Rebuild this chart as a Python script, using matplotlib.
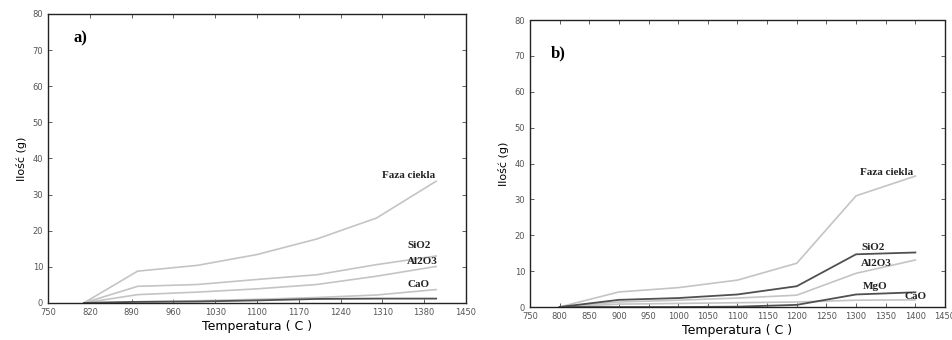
import matplotlib
matplotlib.use("Agg")
import matplotlib.pyplot as plt
import numpy as np

LIGHT, DARK = "#c4c4c4", "#505050"

# ---- panel a) ----
temp_a = [810, 900, 1000, 1100, 1200, 1300, 1400]
faza_a = [0, 8.8, 10.4, 13.4, 17.7, 23.5, 33.7]
sio2_a = [0, 4.6, 5.1, 6.5, 7.8, 10.6, 13.0]
al2o3_a = [0, 2.3, 3.0, 3.9, 5.1, 7.4, 10.1]
cao_a = [0, 0.3, 0.6, 1.0, 1.5, 2.2, 3.7]
mgo_a = [0, 0.3, 0.4, 0.7, 1.1, 1.2, 1.2]
xticks_a = np.arange(750, 1451, 70)

# ---- panel b) ----
temp_b = [800, 900, 1000, 1100, 1200, 1300, 1400]
faza_b = [0, 4.2, 5.4, 7.5, 12.2, 31.0, 36.5]
sio2_b = [0, 2.0, 2.5, 3.5, 5.8, 14.7, 15.2]
al2o3_b = [0, 1.4, 1.9, 2.5, 3.3, 9.4, 13.1]
mgo_b = [0, 0, 0, 0.1, 0.6, 3.5, 4.1]
cao_b = [0, 0.8, 1.0, 1.2, 1.4, 1.9, 2.0]
xticks_b = np.arange(750, 1451, 50)

yticks = np.arange(0, 81, 10)

plt.rcParams.update({"font.family": "DejaVu Sans"})
fig = plt.figure(figsize=(9.53, 3.40), dpi=100)
ax_a = fig.add_axes([0.0504, 0.109, 0.4386, 0.850])
ax_b = fig.add_axes([0.5561, 0.097, 0.4355, 0.844])

LBL = dict(family="Liberation Serif", fontweight="bold", fontsize=8, color="#222222")


def style(ax, xt):
    ax.set_xlim(750, 1450)
    ax.set_ylim(0, 80)
    ax.set_xticks(xt)
    ax.set_yticks(yticks)
    ax.tick_params(direction="in", length=3, labelsize=6, labelcolor="#555555",
                   top=True, right=True, color="#444444", width=0.6)
    for s in ax.spines.values():
        s.set_linestyle((0, (2, 1)))
        s.set_linewidth(1.0)
        s.set_color("#222222")
    ax.set_xlabel("Temperatura ( C )", fontsize=9, labelpad=2)
    ax.set_ylabel("Ilość (g)", fontsize=8, labelpad=4)


# panel a
ax_a.plot(temp_a, faza_a, color=LIGHT, lw=1.2)
ax_a.plot(temp_a, sio2_a, color=LIGHT, lw=1.2)
ax_a.plot(temp_a, al2o3_a, color=LIGHT, lw=1.2)
ax_a.plot(temp_a, cao_a, color=LIGHT, lw=1.2)
ax_a.plot(temp_a, mgo_a, color=DARK, lw=1.3)
style(ax_a, xticks_a)
ax_a.text(1398, 35.3, "Faza ciekla", ha="right", va="center", **LBL)
ax_a.text(1371, 16.0, "SiO2", ha="center", va="center", **LBL)
ax_a.text(1376, 11.4, "Al2O3", ha="center", va="center", **LBL)
ax_a.text(1371, 5.0, "CaO", ha="center", va="center", **LBL)
ax_a.text(0.077, 0.915, "a)", transform=ax_a.transAxes, ha="center", va="center",
          family="Liberation Serif", fontweight="bold", fontsize=12)

# panel b
ax_b.plot(temp_b, faza_b, color=LIGHT, lw=1.2)
ax_b.plot(temp_b, al2o3_b, color=LIGHT, lw=1.2)
ax_b.plot(temp_b, cao_b, color=LIGHT, lw=1.2)
ax_b.plot(temp_b, sio2_b, color=DARK, lw=1.3)
ax_b.plot(temp_b, mgo_b, color=DARK, lw=1.3)
style(ax_b, xticks_b)
ax_b.text(1352, 37.6, "Faza ciekla", ha="center", va="center", **LBL)
ax_b.text(1328, 16.7, "SiO2", ha="center", va="center", **LBL)
ax_b.text(1335, 12.2, "Al2O3", ha="center", va="center", **LBL)
ax_b.text(1332, 5.8, "MgO", ha="center", va="center", **LBL)
ax_b.text(1401, 3.0, "CaO", ha="center", va="center", **LBL)
ax_b.text(0.067, 0.885, "b)", transform=ax_b.transAxes, ha="center", va="center",
          family="Liberation Serif", fontweight="bold", fontsize=12)

fig.savefig("out.png", dpi=100)
